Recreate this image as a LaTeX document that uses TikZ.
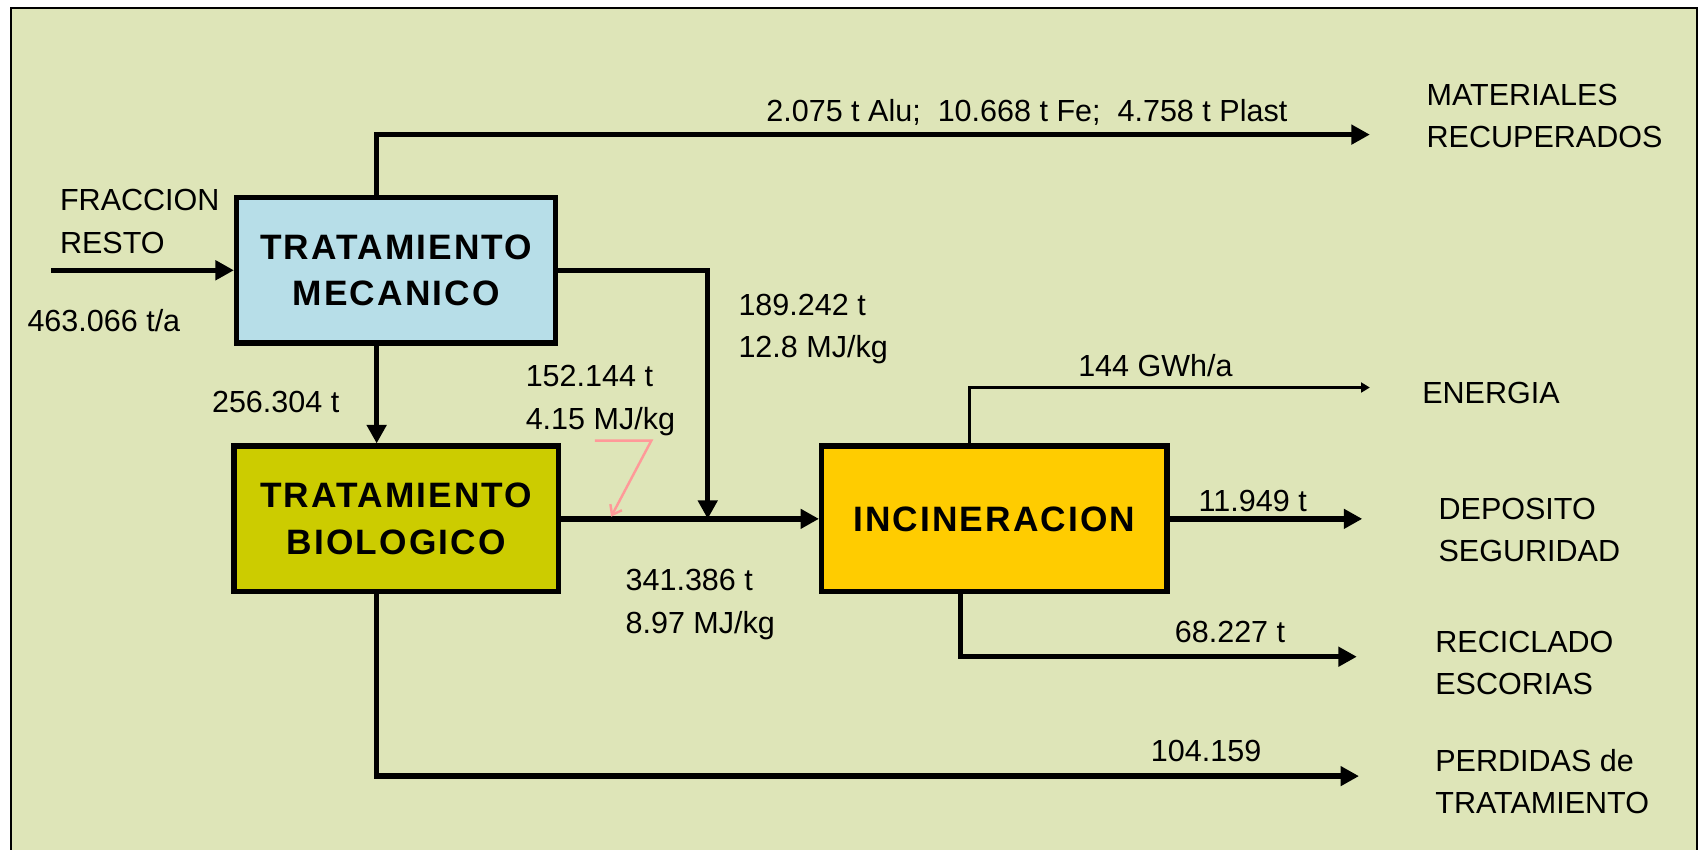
\documentclass[tikz,border=0pt]{standalone}
\usepackage{fontspec}
\setmainfont{Liberation Sans}
\newfontfamily\stagefont[LetterSpace=6]{Liberation Sans}
\usetikzlibrary{calc,arrows.meta}
\definecolor{PanelBg}{RGB}{222,229,184}
\definecolor{MecBlue}{RGB}{183,222,232}
\definecolor{BioOlive}{RGB}{204,204,0}
\definecolor{IncGold}{RGB}{255,204,0}
\definecolor{NotePink}{RGB}{255,153,153}

\begin{document}
\begin{tikzpicture}
[   x=0.2mm, y=-0.2mm,
    stage/.style={draw=black, line width=1mm, minimum height=26.8mm, inner sep=0,
        align=center, font=\stagefont\bfseries\fontsize{18.5}{24.4}\selectfont},
    flow/.style={line width=1mm, -{Triangle[length=3.4mm,width=3.5mm]}},
    thinflow/.style={line width=0.5mm, -{Triangle[length=1.6mm,width=1.8mm]}},
    lbl/.style={anchor=west, inner sep=0, align=left, font=\fontsize{16}{22.2}\selectfont}
]
    \useasboundingbox (0,0) rectangle (1568,783);
    \draw[fill=PanelBg, line width=0.4mm] (10,7) rectangle (1563,800);

    % process stages
    \node[stage, fill=MecBlue, minimum width=58.8mm] (tm) at (365,249) {TRATAMIENTO\\MECANICO};
    \node[stage, fill=BioOlive, minimum width=59.8mm] (tb) at (365,478) {TRATAMIENTO\\BIOLOGICO};
    \node[stage, fill=IncGold, minimum width=63.6mm] (inc) at (916,478) {INCINERACION};

    % loose ends
    \coordinate (feed) at (47,249);
    \coordinate (matEnd) at (1262,124);
    \coordinate (mix) at (652,478);
    \coordinate (enEnd) at (1262,357);
    \coordinate (depEnd) at (1255,478);
    \coordinate (recEnd) at (1250,605);
    \coordinate (perEnd) at (1252,715);
    \coordinate (noteA) at (548,406);
    \coordinate (noteB) at (600,406);
    \coordinate (noteEnd) at (563,476);

    % flows
    \draw[flow] (feed) -- (tm.west);
    \draw[flow] ($(tm.north)+(-18,0)$) |- (matEnd);
    \draw[flow] (tm.east) -| (mix);
    \draw[flow] ($(tm.south)+(-18,0)$) -- ($(tb.north)+(-18,0)$);
    \draw[flow] (tb.east) -- (inc.west);
    \draw[thinflow] ($(inc.north)+(-23,0)$) |- (enEnd);
    \draw[flow] (inc.east) -- (depEnd);
    \draw[flow] ($(inc.south)+(-31,0)$) |- (recEnd);
    \draw[flow] ($(tb.south)+(-18,0)$) |- (perEnd);
    \draw[NotePink, line width=0.45mm, -{Straight Barb[length=1.6mm,width=2.4mm]}]
        (noteA) -- (noteB) -- (noteEnd);

    % quantities
    \node[lbl] (feedTxt) at (55,204) {FRACCION\\RESTO};
    \node[lbl] (feedQty) at (25,295) {463.066 t/a};
    \node[lbl, anchor=center] (matQty) at (946,104) {2.075 t Alu;\ \ 10.668 t Fe;\ \ 4.758 t Plast};
    \node[lbl] (rejQty) at (680,303) {189.242 t\\12.8 MJ/kg};
    \node[lbl] (bioIn) at (195,370) {256.304 t};
    \node[lbl] (bioOut) at (484,369) {152.144 t\\4.15 MJ/kg};
    \node[lbl] (incIn) at (576,557) {341.386 t\\8.97 MJ/kg};
    \node[lbl] (enQty) at (993,337) {144 GWh/a};
    \node[lbl] (depQty) at (1104,462) {11.949 t};
    \node[lbl] (recQty) at (1082,582) {68.227 t};
    \node[lbl] (perQty) at (1060,692) {104.159};

    % destinations
    \node[lbl] (matTxt) at (1314,107) {MATERIALES\\RECUPERADOS};
    \node[lbl] (enTxt) at (1310,362) {ENERGIA};
    \node[lbl] (depTxt) at (1325,488) {DEPOSITO\\SEGURIDAD};
    \node[lbl] (recTxt) at (1322,611) {RECICLADO\\ESCORIAS};
    \node[lbl] (perTxt) at (1322,720) {PERDIDAS de\\TRATAMIENTO};
\end{tikzpicture}
\end{document}
